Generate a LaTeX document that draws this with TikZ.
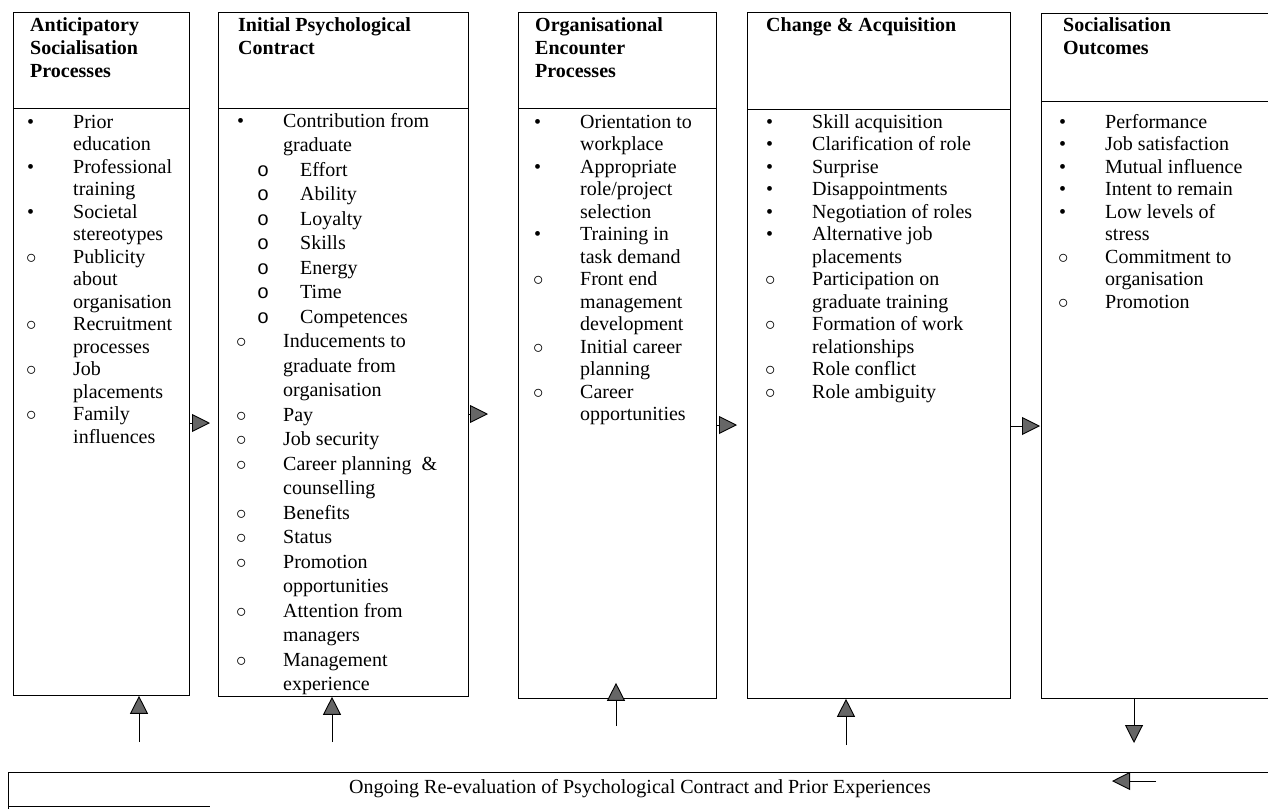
\documentclass[tikz,border=0pt]{standalone}
\usepackage{fontspec}
\setmainfont{Liberation Serif}
\setmonofont{Liberation Mono}
\usetikzlibrary{arrows.meta}

% list lines: filled bullet, open bullet, continuation, sub-item
\newcommand{\bitem}[1]{\makebox[50pt][l]{\hspace{4pt}\textbullet}#1}
\newcommand{\oitem}[1]{\makebox[50pt][l]{\hspace{3pt}$\circ$}#1}
\newcommand{\citem}[1]{\makebox[50pt][l]{}#1}
\newcommand{\sitem}[1]{\makebox[67pt][l]{\hspace{24pt}\texttt{o}}#1}
% lines stacked from the first baseline down
\newcommand{\linestack}[1]{\begin{tabular}[t]{@{}l@{}}#1\end{tabular}}

\begin{document}
\begin{tikzpicture}[
        x=1pt, y=-1pt,
        stage/.style={rectangle, draw, line width=0.8pt, anchor=north west, inner sep=0pt},
        heading/.style={anchor=base west, inner sep=0pt, font=\fontsize{20}{23}\selectfont\bfseries},
        itemlist/.style={anchor=base west, inner sep=0pt, font=\fontsize{20}{22.5}\selectfont},
        flow/.style={-{Triangle[length=18pt, width=18pt, fill=black!60]}, line width=0.9pt}
    ]
    \useasboundingbox (0,0) rectangle (1268,809);
    \clip (0,0) rectangle (1268,809);

    % Stage boxes
    \node[stage, minimum width=176pt, minimum height=683pt] (anti) at (13, 12) {};
    \node[stage, minimum width=250pt, minimum height=684pt] (contract) at (218, 12) {};
    \node[stage, minimum width=198pt, minimum height=686pt] (encounter) at (518, 12) {};
    \node[stage, minimum width=263pt, minimum height=686pt] (change) at (747, 12) {};
    \node[stage, minimum width=240pt, minimum height=685pt] (outcome) at (1041, 13) {};

    % Header dividers
    \draw[line width=0.8pt] ([yshift=-96pt]anti.north west) -- ([yshift=-96pt]anti.north east);
    \draw[line width=0.8pt] ([yshift=-96pt]contract.north west) -- ([yshift=-96pt]contract.north east);
    \draw[line width=0.8pt] ([yshift=-96pt]encounter.north west) -- ([yshift=-96pt]encounter.north east);
    \draw[line width=0.8pt] ([yshift=-97pt]change.north west) -- ([yshift=-97pt]change.north east);
    \draw[line width=0.8pt] ([yshift=-88pt]outcome.north west) -- ([yshift=-88pt]outcome.north east);

    % Headings
    \node[heading] (antihead) at (30, 31) {\linestack{Anticipatory\\Socialisation\\Processes}};
    \node[heading] (contracthead) at (238, 31) {\linestack{Initial Psychological\\Contract}};
    \node[heading] (encounterhead) at (535, 31) {\linestack{Organisational\\Encounter\\Processes}};
    \node[heading] (changehead) at (766, 31) {\linestack{Change \& Acquisition}};
    \node[heading] (outcomehead) at (1063, 31) {\linestack{Socialisation\\Outcomes}};

    % Item lists
    \node[itemlist] (antilist) at (23, 128) {\linestack{\bitem{Prior}\\ \citem{education}\\ \bitem{Professional}\\ \citem{training}\\ \bitem{Societal}\\ \citem{stereotypes}\\ \oitem{Publicity}\\ \citem{about}\\ \citem{organisation}\\ \oitem{Recruitment}\\ \citem{processes}\\ \oitem{Job}\\ \citem{placements}\\ \oitem{Family}\\ \citem{influences}}};
    \node[itemlist, font=\fontsize{20}{24.5}\selectfont] (contractlist) at (233, 127) {\linestack{\bitem{Contribution from}\\ \citem{graduate}\\ \sitem{Effort}\\ \sitem{Ability}\\ \sitem{Loyalty}\\ \sitem{Skills}\\ \sitem{Energy}\\ \sitem{Time}\\ \sitem{Competences}\\ \oitem{Inducements to}\\ \citem{graduate from}\\ \citem{organisation}\\ \oitem{Pay}\\ \oitem{Job security}\\ \oitem{Career planning~ \&}\\ \citem{counselling}\\ \oitem{Benefits}\\ \oitem{Status}\\ \oitem{Promotion}\\ \citem{opportunities}\\ \oitem{Attention from}\\ \citem{managers}\\ \oitem{Management}\\ \citem{experience}}};
    \node[itemlist] (encounterlist) at (530, 128) {\linestack{\bitem{Orientation to}\\ \citem{workplace}\\ \bitem{Appropriate}\\ \citem{role/project}\\ \citem{selection}\\ \bitem{Training in}\\ \citem{task demand}\\ \oitem{Front end}\\ \citem{management}\\ \citem{development}\\ \oitem{Initial career}\\ \citem{planning}\\ \oitem{Career}\\ \citem{opportunities}}};
    \node[itemlist] (changelist) at (762, 128) {\linestack{\bitem{Skill acquisition}\\ \bitem{Clarification of role}\\ \bitem{Surprise}\\ \bitem{Disappointments}\\ \bitem{Negotiation of roles}\\ \bitem{Alternative job}\\ \citem{placements}\\ \oitem{Participation on}\\ \citem{graduate training}\\ \oitem{Formation of work}\\ \citem{relationships}\\ \oitem{Role conflict}\\ \oitem{Role ambiguity}}};
    \node[itemlist] (outcomelist) at (1055, 128) {\linestack{\bitem{Performance}\\ \bitem{Job satisfaction}\\ \bitem{Mutual influence}\\ \bitem{Intent to remain}\\ \bitem{Low levels of}\\ \citem{stress}\\ \oitem{Commitment to}\\ \citem{organisation}\\ \oitem{Promotion}}};

    % Stage to stage
    \draw[flow, shorten >=8pt] (anti.east |- 0,423) -- (contract.west |- 0,423);
    \draw[flow, shorten >=30pt] (contract.east |- 0,414) -- (encounter.west |- 0,414);
    \draw[flow, shorten >=10pt] (encounter.east |- 0,425) -- (change.west |- 0,425);
    \draw[flow, shorten >=1pt] (change.east |- 0,426) -- (outcome.west |- 0,426);

    % Re-evaluation bar
    \draw[line width=0.8pt] (8, 809) -- (8, 772) -- (1268, 772);
    \draw[line width=0.8pt] (8, 806) -- (210, 806);
    \node[anchor=base, inner sep=0pt, font=\fontsize{20}{23}\selectfont] (ongoing) at (640, 793) {Ongoing Re-evaluation of Psychological Contract and Prior Experiences};

    % Feedback arrows
    \coordinate (feed1) at (139, 742);
    \coordinate (feed2) at (332, 742);
    \coordinate (feed3) at (616, 726);
    \coordinate (feed4) at (846, 745);
    \coordinate (drop5) at (1134, 743);
    \coordinate (barstart) at (1156, 781);
    \coordinate (barend) at (1112, 781);
    \draw[flow] (feed1) -- (anti.south -| feed1);
    \draw[flow] (feed2) -- (contract.south -| feed2);
    \draw[flow, shorten >=-16pt] (feed3) -- (encounter.south -| feed3);
    \draw[flow] (feed4) -- (change.south -| feed4);
    \draw[flow] (outcome.south -| drop5) -- (drop5);
    \draw[flow] (barstart) -- (barend);

\end{tikzpicture}
\end{document}
